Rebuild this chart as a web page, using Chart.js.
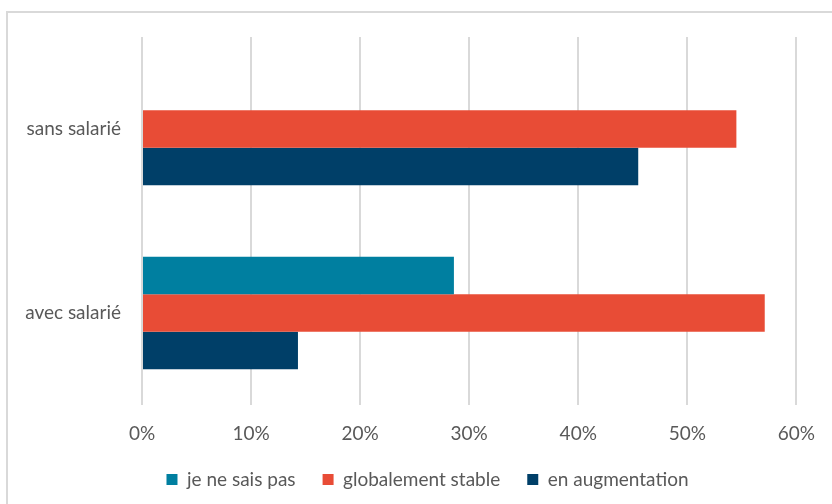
<!DOCTYPE html>
<html>
<head>
<meta charset="utf-8">
<script src="https://cdn.jsdelivr.net/npm/chart.js@4"></script>
<style>
  html, body { margin: 0; padding: 0; background: #fff; }
  #wrap { position: relative; width: 832px; height: 504px; overflow: hidden; }
  #frame { position: absolute; left: 6px; top: 11px; width: 900px; height: 600px; border: 2px solid #d9d9d9; box-sizing: border-box; }
  #c { position: absolute; left: 0; top: 0; }
</style>
</head>
<body>
<div id="wrap">
  <div id="frame"></div>
  <canvas id="c" width="832" height="504"></canvas>
</div>
<script>
const categories = ['sans salarié', 'avec salarié'];
const seriesNames = ['je ne sais pas', 'globalement stable', 'en augmentation'];
const jeNeSaisPas = [0, 28.6];
const globalementStable = [54.5, 57.1];
const enAugmentation = [45.5, 14.3];
const xTicks = [0, 10, 20, 30, 40, 50, 60];
const colors = ['#007FA0', '#E84C36', '#003F68'];

const FONT = "Lato, 'Liberation Sans', sans-serif";

const legendShift = {
  id: 'legendShift',
  afterLayout(chart) {
    if (chart.legend) { chart.legend.left += 29; chart.legend.right += 29; }
  }
};

new Chart(document.getElementById('c'), {
  type: 'bar',
  data: {
    labels: categories,
    datasets: [
      { label: seriesNames[0], data: jeNeSaisPas, backgroundColor: colors[0] },
      { label: seriesNames[1], data: globalementStable, backgroundColor: colors[1] },
      { label: seriesNames[2], data: enAugmentation, backgroundColor: colors[2] }
    ]
  },
  plugins: [legendShift],
  options: {
    indexAxis: 'y',
    responsive: false,
    animation: false,
    devicePixelRatio: 1,
    layout: { padding: { top: 37, right: 35, left: 0, bottom: 5 } },
    datasets: { bar: { barPercentage: 1, categoryPercentage: 0.612, borderWidth: 0 } },
    scales: {
      x: {
        min: 0, max: 60,
        afterBuildTicks: (s) => { s.ticks = xTicks.map(v => ({ value: v })); },
        grid: { color: '#d9d9d9', lineWidth: 2, drawTicks: false },
        border: { display: false },
        ticks: { color: '#595959', font: { family: FONT, size: 19 }, padding: 17, callback: v => v + '%' },
        afterFit: (s) => { s.height = 38; }
      },
      y: {
        grid: { display: false, drawTicks: false },
        border: { display: false },
        ticks: { color: '#595959', font: { family: FONT, size: 19 }, padding: 21 },
        afterFit: (s) => { s.width = 142; }
      }
    },
    plugins: {
      legend: {
        position: 'bottom',
        labels: { color: '#595959', font: { family: FONT, size: 19 }, boxWidth: 11, boxHeight: 11, padding: 27 }
      },
      tooltip: { enabled: false }
    }
  }
});
</script>
</body>
</html>
